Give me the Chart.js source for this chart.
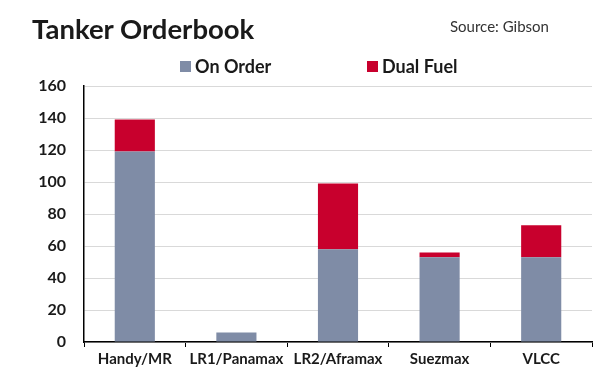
<!DOCTYPE html>
<html><head><meta charset="utf-8">
<script src="https://cdn.jsdelivr.net/npm/chart.js@4"></script>
<style>
html,body{margin:0;padding:0;background:#fff;}
#wrap{position:relative;width:600px;height:384px;font-family:Lato,"Open Sans",sans-serif;}
canvas{position:absolute;left:0;top:0;}
.t{position:absolute;white-space:nowrap;color:#1a1a1a;}
#title{left:32px;top:12px;font-size:27.5px;font-weight:bold;}
#source{left:450px;top:17px;font-size:15px;color:#333;}
.lg{position:absolute;top:55px;font-size:18px;font-weight:bold;color:#1a1a1a;white-space:nowrap;}
.box{display:inline-block;width:11px;height:11px;margin-right:4px;vertical-align:1px;}
</style></head>
<body><div id="wrap">
<canvas id="c" width="600" height="384"></canvas>
<div class="t" id="title">Tanker Orderbook</div>
<div class="t" id="source">Source: Gibson</div>
<div class="lg" style="left:180px"><span class="box" style="background:#7f8ca6"></span>On Order</div>
<div class="lg" style="left:367px"><span class="box" style="background:#c8002d"></span>Dual Fuel</div>
</div>
<script>
const categories = ["Handy/MR","LR1/Panamax","LR2/Aframax","Suezmax","VLCC"];
const onOrder = [119, 6, 58, 53, 53];
const dualFuel = [20, 0, 41, 3, 20];
const yTicks = [0,20,40,60,80,100,120,140,160];

new Chart(document.getElementById('c'), {
  type: 'bar',
  data: {
    labels: categories,
    datasets: [
      {label:'On Order', data:onOrder, backgroundColor:'#7f8ca6', barPercentage:0.395, categoryPercentage:1},
      {label:'Dual Fuel', data:dualFuel, backgroundColor:'#c8002d', barPercentage:0.395, categoryPercentage:1}
    ]
  },
  options: {
    responsive:false, animation:false,
    layout:{padding:{top:86, right:8, bottom:0, left:0}},
    plugins:{legend:{display:false}, tooltip:{enabled:false}, title:{display:false}},
    scales:{
      x:{
        stacked:true,
        afterFit:(s)=>{s.height=42;},
        grid:{offset:true, drawOnChartArea:true, tickLength:5,
          color:(ctx)=>ctx.index===5?'#d9d9d9':'rgba(0,0,0,0)',
          tickColor:'#000', lineWidth:1},
        border:{color:'#000', width:1.5},
        ticks:{autoSkip:false, maxRotation:0, minRotation:0, padding:3,
          color:'#1a1a1a', font:{family:'Lato', size:15, weight:'bold'}}
      },
      y:{
        stacked:true, min:0, max:160,
        afterFit:(s)=>{s.width=84;},
        afterBuildTicks:(s)=>{s.ticks = yTicks.map(v=>({value:v}));},
        grid:{color:'#d9d9d9', drawTicks:false, lineWidth:1},
        border:{color:'#000', width:1.5},
        ticks:{padding:18, color:'#1a1a1a', font:{family:'Lato', size:16, weight:'bold'}}
      }
    }
  }
});
</script>
</body></html>
